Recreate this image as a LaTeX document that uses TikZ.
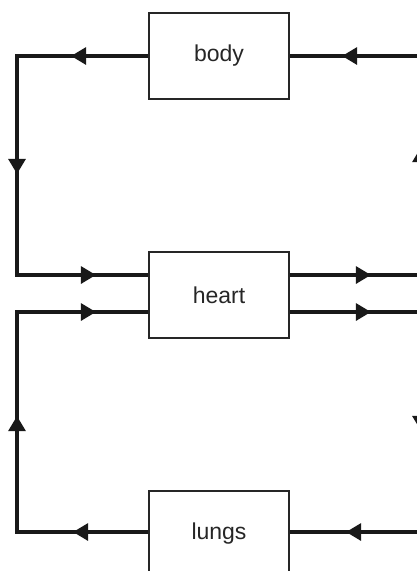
\documentclass[tikz,border=0pt]{standalone}
\usepackage{fontspec}
\setmainfont{Liberation Sans}
\usetikzlibrary{arrows.meta, positioning, decorations.markings}

\begin{document}
\begin{tikzpicture}[x=1pt, y=-1pt, node distance=151pt]
    \tikzstyle{organ} = [rectangle, minimum width=140pt, minimum height=86pt, text centered, draw=black!85, line width=1.8pt, font=\fontsize{23}{27}\selectfont, text=black!85]
    \tikzstyle{flow} = [line width=3.2pt, black!90, line join=miter]
    \tikzstyle{tipat} = [postaction={decorate, decoration={markings, mark=at position #1 with {\arrow{Triangle[length=15pt,width=17pt]}}}}]

    \useasboundingbox (0,0) rectangle (417,571);
    \clip (0,0) rectangle (417,571);

    \node (body) [organ] at (219,56) {body};
    \node (heart) [organ, below=of body] {heart};
    \node (lungs) [organ, below=of heart] {lungs};

    % corners of the loops
    \coordinate (tl) at (17,56);
    \coordinate (ml1) at (17,275);
    \coordinate (ml2) at (17,312);
    \coordinate (bl) at (17,532);
    \coordinate (tr) at (421,56);
    \coordinate (mr1) at (421,275);
    \coordinate (mr2) at (421,312);
    \coordinate (br) at (421,532);

    \draw [flow, tipat=77pt, tipat=249pt, tipat=429pt] (body.west) -- (tl) -- (ml1) -- (heart.west |- ml1);
    \draw [flow, tipat=75pt, tipat=247pt, tipat=430pt] (lungs.west |- bl) -- (bl) -- (ml2) -- (heart.west |- ml2);
    \draw [flow, tipat=81pt, tipat=259pt, tipat=429pt] (heart.east |- mr1) -- (mr1) -- (tr) -- (body.east);
    \draw [flow, tipat=81pt, tipat=250pt, tipat=426pt] (heart.east |- mr2) -- (mr2) -- (br) -- (lungs.east |- br);
\end{tikzpicture}
\end{document}
